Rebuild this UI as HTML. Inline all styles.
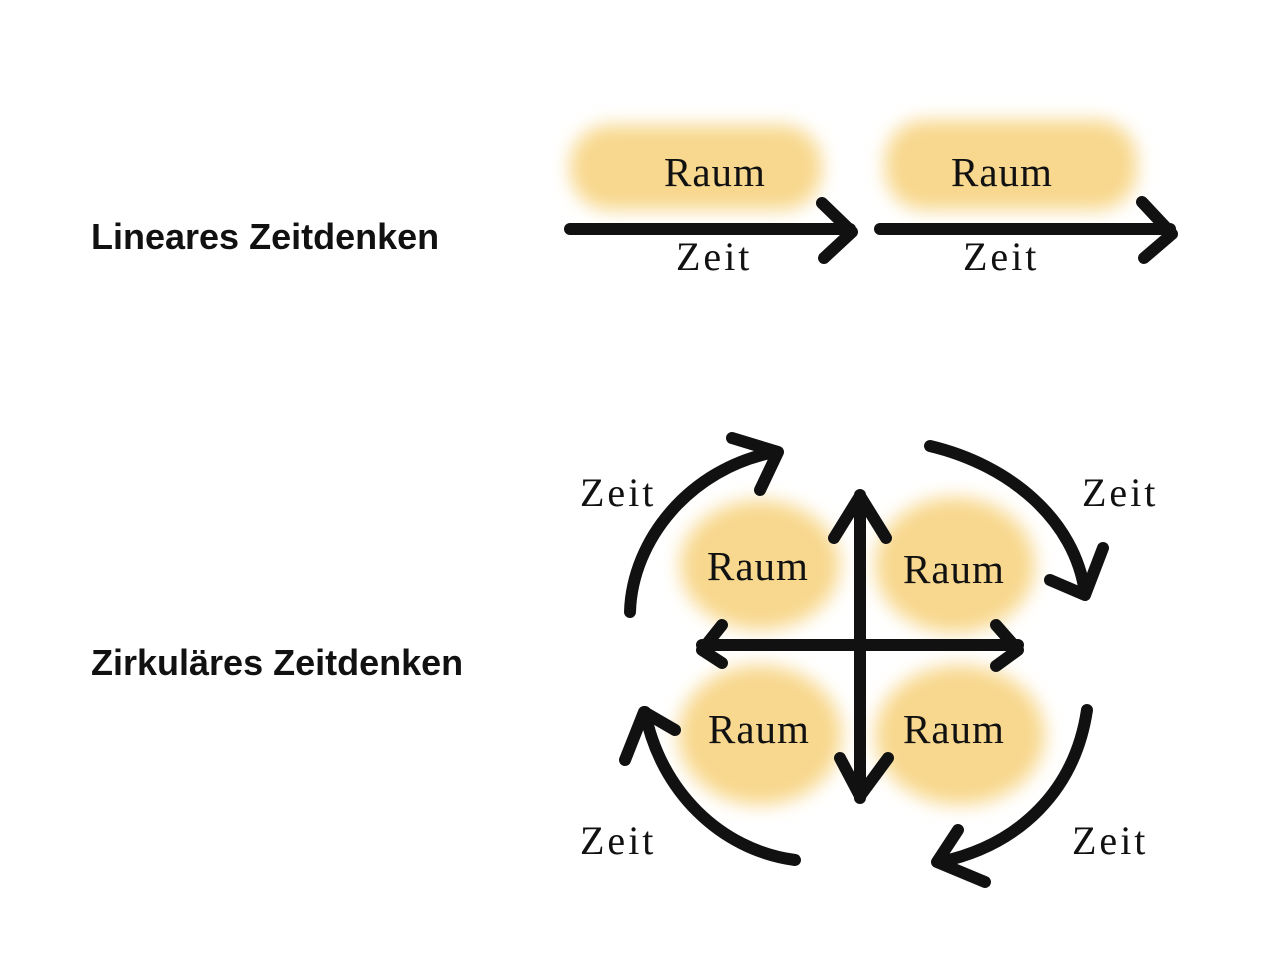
<!DOCTYPE html>
<html><head><meta charset="utf-8"><style>
html,body{margin:0;padding:0;background:#fff;width:1280px;height:960px;overflow:hidden}
svg{display:block}
.t{font-family:"Liberation Sans",sans-serif;font-weight:bold;font-size:36px;fill:#111}
.h{font-family:"Liberation Serif",serif;font-size:41px;letter-spacing:1px;fill:#111}
.z{font-family:"Liberation Serif",serif;font-size:40px;letter-spacing:3px;fill:#111}
</style></head><body>
<svg width="1280" height="960" viewBox="0 0 1280 960">
<defs><filter id="b" x="-30%" y="-30%" width="160%" height="160%"><feGaussianBlur stdDeviation="9"/></filter></defs>
<g fill="#f8d88e" filter="url(#b)">
<rect x="570" y="125" width="252" height="85" rx="40"/>
<rect x="885" y="120" width="252" height="90" rx="40"/>
<ellipse cx="760" cy="565" rx="80" ry="65"/>
<ellipse cx="955" cy="565" rx="80" ry="68"/>
<ellipse cx="760" cy="735" rx="82" ry="70"/>
<ellipse cx="960" cy="735" rx="85" ry="70"/>
</g>
<text class="t" x="91" y="249">Lineares Zeitdenken</text>
<text class="t" x="91" y="675">Zirkuläres Zeitdenken</text>
<g stroke="#111" stroke-width="12" fill="none" stroke-linecap="round" stroke-linejoin="round">
<line x1="570" y1="229" x2="850" y2="229"/><polyline points="822,203 852,232 824,258"/>
<line x1="880" y1="229" x2="1170" y2="229"/><polyline points="1142,202 1172,234 1144,258"/>
<line x1="860" y1="495" x2="860" y2="798"/>
<polyline points="834,538 860,496 886,538"/><polyline points="840,758 860,796 888,758"/>
<line x1="702" y1="645" x2="1018" y2="645"/>
<polyline points="722,625 702,650 722,663"/><polyline points="996,625 1018,650 996,666"/>
<path d="M630,612 C632,540 690,468 775,452"/><polyline points="732,438 778,452 760,490"/>
<path d="M930,446 C1010,465 1075,520 1085,593"/><polyline points="1050,580 1085,595 1103,548"/>
<path d="M795,860 C720,850 660,790 645,712"/><polyline points="625,760 644,712 675,730"/>
<path d="M1087,710 C1075,790 1020,845 940,862"/><polyline points="958,830 937,862 985,882"/>
</g>
<text class="h" x="664" y="186">Raum</text>
<text class="h" x="951" y="186">Raum</text>
<text class="z" x="676" y="270">Zeit</text>
<text class="z" x="963" y="270">Zeit</text>
<text class="h" x="707" y="580">Raum</text>
<text class="h" x="903" y="583">Raum</text>
<text class="h" x="708" y="743">Raum</text>
<text class="h" x="903" y="743">Raum</text>
<text class="z" x="580" y="506">Zeit</text>
<text class="z" x="1082" y="506">Zeit</text>
<text class="z" x="580" y="854">Zeit</text>
<text class="z" x="1072" y="854">Zeit</text>
</svg>
</body></html>
